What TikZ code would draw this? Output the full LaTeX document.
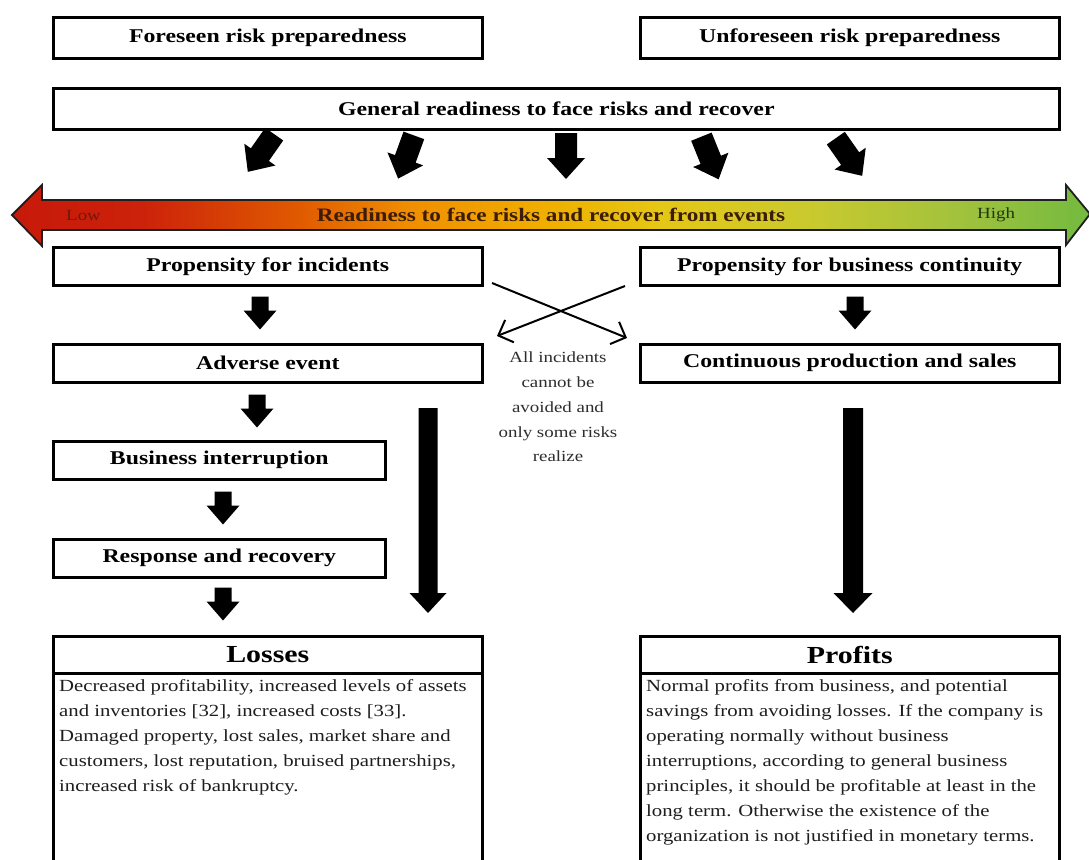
\documentclass[tikz,border=0pt]{standalone}
\usepackage{fontspec}
\setmainfont{Liberation Serif}[FakeStretch=1.22]
\usetikzlibrary{arrows.meta,calc}
\definecolor{lowc}{RGB}{110,25,10}
\definecolor{barc}{RGB}{60,28,5}
\definecolor{highc}{RGB}{35,55,15}
\definecolor{notec}{RGB}{45,45,45}
\definecolor{bodyc}{RGB}{30,30,30}
\pgfdeclarehorizontalshading{ready}{100bp}{rgb(0bp)=(0.78,0.10,0.04); rgb(25bp)=(0.78,0.10,0.04); rgb(31bp)=(0.80,0.13,0.04); rgb(38.5bp)=(0.88,0.36,0); rgb(43.5bp)=(0.94,0.56,0); rgb(50bp)=(0.94,0.69,0); rgb(55bp)=(0.90,0.78,0.08); rgb(62bp)=(0.79,0.79,0.18); rgb(69bp)=(0.63,0.76,0.24); rgb(75bp)=(0.45,0.73,0.25); rgb(100bp)=(0.45,0.73,0.25)}
\tikzset{
  pics/barrow/.style n args={4}{code={%
    \fill[black] (-#2/2,-#1/2) -- (#2/2,-#1/2) -- (#2/2,#1/2-#4) -- (#3/2,#1/2-#4) -- (0,#1/2) -- (-#3/2,#1/2-#4) -- (-#2/2,#1/2-#4) -- cycle;}},
  box/.style={draw, line width=2.6pt, inner sep=0pt, anchor=north west, font=\fontsize{19.5}{23}\selectfont\bfseries},
  headbox/.style={draw, line width=2.6pt, inner sep=0pt, anchor=north west, font=\fontsize{24.5}{28}\selectfont\bfseries},
  bodybox/.style={draw, line width=2.6pt, inner sep=0pt, anchor=north west},
  bodytext/.style={anchor=north west, align=left, inner sep=0pt, text=bodyc, font=\fontsize{17}{25}\selectfont},
  cross/.style={line width=2pt, -{Straight Barb[length=12pt,width=24pt]}},
}
\begin{document}
\begin{tikzpicture}[x=1pt,y=-1pt]
\useasboundingbox (0,0) rectangle (1089,859);
\fill[white] (0,0) rectangle (1089,859);
\clip (0,0) rectangle (1089,859);

% top boxes
\node[box, minimum width=429pt, minimum height=41pt] (fore) at (52,16) {Foreseen risk preparedness};
\node[box, minimum width=419pt, minimum height=41pt] (unfore) at (639,16) {Unforeseen risk preparedness};
\node[box, minimum width=1006pt, minimum height=41pt] (general) at (52,87) {General readiness to face risks and recover};

% arrows below general readiness
\coordinate (t1) at (261,153);
\coordinate (t2) at (406,157);
\coordinate (t3) at (566,156);
\coordinate (t4) at (710,158);
\coordinate (t5) at (849,157);
\pic[rotate=-35] at (t1) {barrow={46}{22}{38}{21}};
\pic[rotate=-20] at (t2) {barrow={46}{22}{38}{21}};
\pic at (t3) {barrow={46}{22}{38}{21}};
\pic[rotate=22] at (t4) {barrow={46}{22}{38}{21}};
\pic[rotate=35] at (t5) {barrow={46}{22}{38}{21}};

% gradient bar
\path[shade, shading=ready, draw=black!88, line width=1.8pt, line join=miter]
  (12,215) -- (42,185) -- (42,200) -- (1066,200) -- (1066,185) -- (1090,214)
  -- (1066,245) -- (1066,230) -- (42,230) -- (42,246) -- cycle;
\node[font=\fontsize{15.5}{18}\selectfont, text=lowc, anchor=west, inner sep=0pt] (low) at (66,215) {Low};
\node[font=\fontsize{19}{22}\selectfont\bfseries, text=barc, inner sep=0pt] (bartext) at (551,215) {Readiness to face risks and recover from events};
\node[font=\fontsize{15.5}{18}\selectfont, text=highc, anchor=west, inner sep=0pt] (high) at (977,215) {High};

% second row
\node[box, minimum width=429pt, minimum height=38pt] (propinc) at (52,246) {Propensity for incidents};
\node[box, minimum width=419pt, minimum height=38pt] (propcont) at (639,246) {Propensity for business continuity};

\coordinate (p1) at (260,313);
\coordinate (p2) at (855,313);
\pic at (p1) {barrow={33}{17}{33}{19}};
\pic at (p2) {barrow={33}{17}{33}{19}};

% cross arrows
\coordinate (ca1) at (492,283);
\coordinate (ca2) at (627,338);
\coordinate (cb1) at (625,286);
\coordinate (cb2) at (497,336);
\draw[cross] (ca1) -- (ca2);
\draw[cross] (cb1) -- (cb2);

\node[box, minimum width=429pt, minimum height=38pt] (adverse) at (52,343) {Adverse event};
\node[box, minimum width=419pt, minimum height=38pt] (contprod) at (639,343) {Continuous production and sales};

\node[align=center, text=notec, inner sep=0pt, font=\fontsize{15.5}{24.8}\selectfont] (note) at (558,407) {All incidents\\cannot be\\avoided and\\only some risks\\realize};

\coordinate (q1) at (257,411);
\pic at (q1) {barrow={33}{17}{33}{19}};

\node[box, minimum width=332pt, minimum height=38pt] (busint) at (52,440) {Business interruption};
\coordinate (q2) at (223,508);
\pic at (q2) {barrow={33}{17}{33}{19}};

\node[box, minimum width=332pt, minimum height=38pt] (resp) at (52,538) {Response and recovery};
\coordinate (q3) at (223,604);
\pic at (q3) {barrow={33}{17}{33}{19}};

% long arrows
\coordinate (l1) at (428,510.5);
\coordinate (l2) at (853,510.5);
\pic at (l1) {barrow={205}{19}{37}{20}};
\pic at (l2) {barrow={205}{20}{39}{20}};

% bottom boxes
\node[headbox, minimum width=429pt, minimum height=37pt] (losshead) at (52,635) {Losses};
\node[bodybox, minimum width=429pt, minimum height=230pt] (lossbody) at (52,672) {};
\node[bodytext] (losstext) at (59,679) {Decreased profitability, increased levels of assets\\and inventories [32], increased costs [33].\\Damaged property, lost sales, market share and\\customers, lost reputation, bruised partnerships,\\increased risk of bankruptcy.};

\node[headbox, minimum width=419pt, minimum height=37pt] (profhead) at (639,635) {Profits};
\node[bodybox, minimum width=419pt, minimum height=230pt] (profbody) at (639,672) {};
\node[bodytext] (proftext) at (646,679) {Normal profits from business, and potential\\savings from avoiding losses. If the company is\\operating normally without business\\interruptions, according to general business\\principles, it should be profitable at least in the\\long term. Otherwise the existence of the\\organization is not justified in monetary terms.};
\end{tikzpicture}
\end{document}
